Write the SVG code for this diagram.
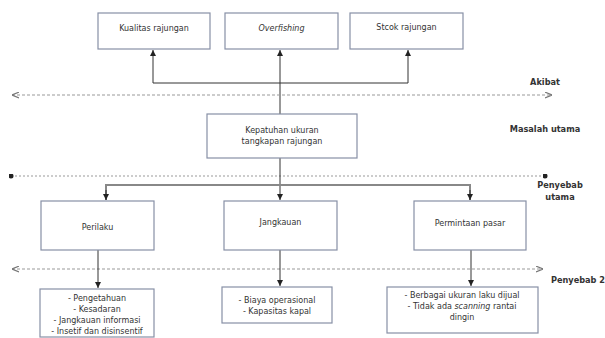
<svg xmlns="http://www.w3.org/2000/svg" width="605" height="338" viewBox="0 0 605 338">
<defs>
<style>
.box{fill:#fff;stroke:#8790a6;stroke-width:1.2}
.t{font-family:"DejaVu Sans","Verdana",sans-serif;font-size:8px;fill:#333;text-anchor:middle}
.lab{font-family:"DejaVu Sans","Verdana",sans-serif;font-size:8.2px;font-weight:bold;fill:#333;text-anchor:middle}
.ln{stroke:#333;stroke-width:1;fill:none}
.gl{stroke:#888;stroke-width:2;fill:none}
.dash{stroke:#999;stroke-width:1;stroke-dasharray:3,2;fill:none}
.dot{stroke:#999;stroke-width:1;stroke-dasharray:2,2;fill:none}
</style>
<marker id="ah" viewBox="0 0 6 6" refX="6" refY="3" markerWidth="6" markerHeight="6" orient="auto" markerUnits="userSpaceOnUse">
<path d="M0,0 L6,3 L0,6 z" fill="#222"/>
</marker>
<marker id="oa" viewBox="0 0 6 6" refX="6" refY="3" markerWidth="7" markerHeight="7" orient="auto-start-reverse" markerUnits="userSpaceOnUse">
<path d="M0,0.5 L6,3 L0,5.5" fill="none" stroke="#777" stroke-width="1"/>
</marker>
<marker id="dt" viewBox="0 0 6 6" refX="3" refY="3" markerWidth="5" markerHeight="5" markerUnits="userSpaceOnUse">
<circle cx="3" cy="3" r="3" fill="#222"/>
</marker>
</defs>

<g id="connectors">
<path class="ln" d="M280,114 V50" marker-end="url(#ah)"/>
<path class="ln" d="M153,83 H408"/>
<path class="ln" d="M153,83 V50" marker-end="url(#ah)"/>
<path class="ln" d="M408,83 V50" marker-end="url(#ah)"/>
<path class="dash" d="M12,95 H552" marker-start="url(#oa)" marker-end="url(#oa)"/>
<path class="dot" d="M11,176 H545" marker-start="url(#dt)" marker-end="url(#dt)"/>
<path class="ln" d="M280,158 V200" marker-end="url(#ah)"/>
<path class="gl" d="M106,200 V185 H470 V200"/>
<path class="ln" d="M106,190 V200" marker-end="url(#ah)"/>
<path class="ln" d="M470,190 V200" marker-end="url(#ah)"/>
<path class="dash" d="M12,269 H543" marker-start="url(#oa)" marker-end="url(#oa)"/>
<path class="ln" d="M98,250 V288" marker-end="url(#ah)"/>
<path class="ln" d="M280,250 V286" marker-end="url(#ah)"/>
<path class="ln" d="M471,250 V286" marker-end="url(#ah)"/>
</g>

<g id="kualitas"><rect class="box" x="98" y="13" width="112" height="36"/><text class="t" x="154" y="31">Kualitas rajungan</text></g>
<g id="overfishing"><rect class="box" x="225" y="13" width="113" height="36"/><text class="t" x="281.5" y="31" font-style="italic">Overfishing</text></g>
<g id="stcok"><rect class="box" x="350" y="13" width="113" height="36"/><text class="t" x="406.5" y="30">Stcok rajungan</text></g>

<g id="kepatuhan"><rect class="box" x="207" y="114" width="150" height="44"/><text class="t" x="282" y="133">Kepatuhan ukuran</text><text class="t" x="282" y="144">tangkapan rajungan</text></g>

<g id="perilaku"><rect class="box" x="41" y="201" width="113" height="49"/><text class="t" x="97.5" y="230">Perilaku</text></g>
<g id="jangkauan"><rect class="box" x="224" y="201" width="113" height="49"/><text class="t" x="280.5" y="225">Jangkauan</text></g>
<g id="permintaan"><rect class="box" x="414" y="201" width="112" height="49"/><text class="t" x="470" y="226">Permintaan pasar</text></g>

<g id="sub-perilaku"><rect class="box" x="40" y="289" width="114" height="48"/>
<text class="t" x="97" y="301">- Pengetahuan</text>
<text class="t" x="97" y="312">- Kesadaran</text>
<text class="t" x="97" y="323">- Jangkauan informasi</text>
<text class="t" x="97" y="334">- Insetif dan disinsentif</text></g>
<g id="sub-jangkauan"><rect class="box" x="222" y="287" width="110" height="36"/>
<text class="t" x="277" y="303">- Biaya operasional</text>
<text class="t" x="277" y="314">- Kapasitas kapal</text></g>
<g id="sub-permintaan"><rect class="box" x="387" y="287" width="151" height="46"/>
<text class="t" x="462" y="298">- Berbagai ukuran laku dijual</text>
<text class="t" x="462" y="309">- Tidak ada <tspan font-style="italic">scanning</tspan> rantai</text>
<text class="t" x="462" y="320">dingin</text></g>

<g id="labels">
<text class="lab" x="545" y="85">Akibat</text>
<text class="lab" x="545" y="132">Masalah utama</text>
<text class="lab" x="560" y="188">Penyebab</text>
<text class="lab" x="560" y="200">utama</text>
<text class="lab" x="578" y="283">Penyebab 2</text>
</g>
</svg>
